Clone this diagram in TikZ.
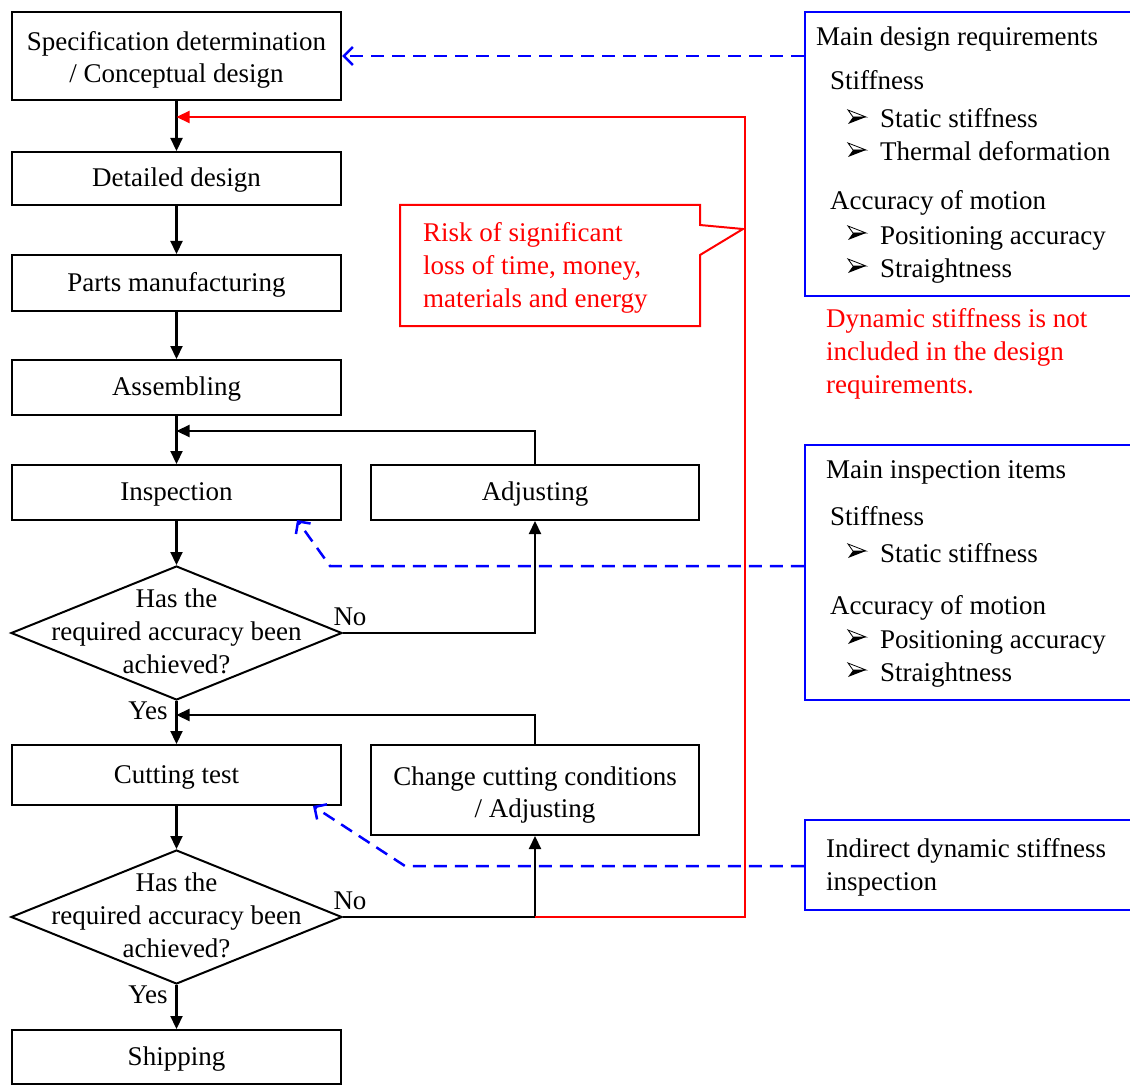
\documentclass[tikz,border=0pt]{standalone}
\usepackage{fontspec}
\setmainfont{Liberation Serif}
\usetikzlibrary{arrows.meta,shapes.geometric}
\definecolor{pureblue}{RGB}{0,0,255}
\definecolor{purered}{RGB}{255,0,0}
% two centred lines, lowered a little inside their box
\newcommand{\twolines}[3]{\raisebox{#1}[\height][\depth]{\begin{tabular}{@{}c@{}}#2\\#3\end{tabular}}}

\begin{document}
\begin{tikzpicture}[x=1pt,y=-1pt,
  font=\fontsize{27}{32}\selectfont,
  every node/.style={inner sep=0pt},
  stepbox/.style={draw,line width=2pt,minimum width=329pt,align=center},
  oneline/.style={text height=21pt,text depth=4.3pt},
  decision/.style={draw,diamond,line width=2pt,minimum width=331pt,minimum height=134pt},
  infobox/.style={draw=pureblue,line width=2.5pt,minimum width=340pt},
  txt/.style={anchor=base west},
  flow/.style={line width=2.2pt,-{Triangle[length=13pt,width=12pt]}},
  redflow/.style={purered,line width=2.2pt,-{Triangle[length=13pt,width=12pt]}},
  bluelink/.style={pureblue,line width=2.5pt,dash pattern=on 13pt off 8pt,
    -{Straight Barb[length=9pt,width=18pt,line width=2.5pt]}},
  % arrowhead list marker, placed at the baseline of its line
  pics/listmark/.style={code={
    \draw[line width=0.8pt,line join=miter] (1,-18) -- (19,-11) -- (6,-11) -- cycle;
    \fill (1,-4) -- (19,-11) -- (6,-11) -- cycle;
  }},
]
\clip (0,0) rectangle (1130,1086);
\fill[white] (0,0) rectangle (1130,1086);

% ---- main process column ----
\node[stepbox,minimum height=88pt] (spec) at (176.5,56)
  {\twolines{-4pt}{Specification determination}{/ Conceptual design}};
\node[stepbox,oneline,minimum height=53pt] (detail) at (176.5,178.5) {Detailed design};
\node[stepbox,oneline,minimum height=56pt] (parts) at (176.5,283) {Parts manufacturing};
\node[stepbox,oneline,minimum height=55pt] (assy) at (176.5,387.5) {Assembling};
\node[stepbox,oneline,minimum height=55pt] (insp) at (176.5,492.5) {Inspection};
\node[stepbox,oneline,minimum height=55pt,minimum width=328pt] (adj) at (535,492.5) {Adjusting};
\node[decision] (dec1) at (176.5,633) {};
\node[align=center,font=\fontsize{27}{33}\selectfont] (dec1txt) at (176.5,631)
  {Has the\\required accuracy been\\achieved?};
\node[stepbox,oneline,minimum height=60pt] (cut) at (176.5,775) {Cutting test};
\node[stepbox,minimum height=90pt,minimum width=328pt] (chg) at (535,790)
  {\twolines{-5pt}{Change cutting conditions}{/ Adjusting}};
\node[decision] (dec2) at (176.5,917) {};
\node[align=center,font=\fontsize{27}{33}\selectfont] (dec2txt) at (176.5,915)
  {Has the\\required accuracy been\\achieved?};
\node[stepbox,oneline,minimum height=54pt] (ship) at (176.5,1057) {Shipping};

% branch labels
\node (no1) at (350,617) {No};
\node (yes1) at (148,711) {Yes};
\node (no2) at (350,901) {No};
\node (yes2) at (148,995) {Yes};

% junction points on the main line
\coordinate (redin) at (176.5,117);
\coordinate (fb1) at (176.5,431);
\coordinate (fb2) at (176.5,715);
\coordinate (redcorner) at (745,117);

% ---- main flow ----
\draw[flow] (spec) -- (detail);
\draw[flow] (detail) -- (parts);
\draw[flow] (parts) -- (assy);
\draw[flow] (assy) -- (insp);
\draw[flow] (insp) -- (dec1);
\draw[flow] (dec1) -- (cut);
\draw[flow] (cut) -- (dec2);
\draw[flow] (dec2) -- (ship);

% ---- adjustment loops ----
\draw[flow] (dec1.east) -| (adj.south);
\draw[flow] (adj.north) |- (fb1);
\draw[flow] (dec2.east) -| (chg.south);
\draw[flow] (chg.north) |- (fb2);

% ---- return to the design stage ----
\draw[redflow] (chg.south |- dec2.east) -| (redcorner) -- (redin);

% warning callout
\draw[purered,line width=2pt,fill=white]
  (400,205) -- (700,205) -- (700,225) -- (743,229) -- (700,255)
  -- (700,326) -- (400,326) -- cycle;
\node[purered,align=left,anchor=west,font=\fontsize{27}{33}\selectfont] (risk) at (423,268)
  {Risk of significant\\loss of time, money,\\materials and energy};

% ---- requirement boxes ----
\node[infobox,minimum height=284pt] (req) at (975,154) {};
\node[txt] (req0) at (816,46) {Main design requirements};
\node[txt] (req1) at (830,90) {Stiffness};
\pic at (847,128) {listmark};
\node[txt] (req2) at (880,128) {Static stiffness};
\pic at (847,161) {listmark};
\node[txt] (req3) at (880,161) {Thermal deformation};
\node[txt] (req4) at (830,210) {Accuracy of motion};
\pic at (847,244) {listmark};
\node[txt] (req5) at (880,244) {Positioning accuracy};
\pic at (847,277) {listmark};
\node[txt] (req6) at (880,277) {Straightness};

\node[purered,align=left,anchor=west,font=\fontsize{27}{33}\selectfont] (dyn) at (826,354)
  {Dynamic stiffness is not\\included in the design\\requirements.};

\node[infobox,minimum height=255pt] (chk) at (975,572.5) {};
\node[txt] (chk0) at (826,478) {Main inspection items};
\node[txt] (chk1) at (830,525) {Stiffness};
\pic at (847,562) {listmark};
\node[txt] (chk2) at (880,562) {Static stiffness};
\node[txt] (chk3) at (830,614) {Accuracy of motion};
\pic at (847,648) {listmark};
\node[txt] (chk4) at (880,648) {Positioning accuracy};
\pic at (847,681) {listmark};
\node[txt] (chk5) at (880,681) {Straightness};

\node[infobox,minimum height=90pt] (dynchk) at (975,865) {};
\node[txt] (dyn0) at (826,857) {Indirect dynamic stiffness};
\node[txt] (dyn1) at (826,890) {inspection};

% ---- dashed links ----
\coordinate (bend1) at (330,566);
\coordinate (hit1) at (297,520);
\coordinate (bend2) at (405,866);
\coordinate (hit2) at (313,806);
\draw[bluelink] (req.west |- spec.east) -- (spec.east);
\draw[bluelink] (chk.west |- bend1) -- (bend1) -- (hit1);
\draw[bluelink] (dynchk.west |- bend2) -- (bend2) -- (hit2);
\end{tikzpicture}
\end{document}
